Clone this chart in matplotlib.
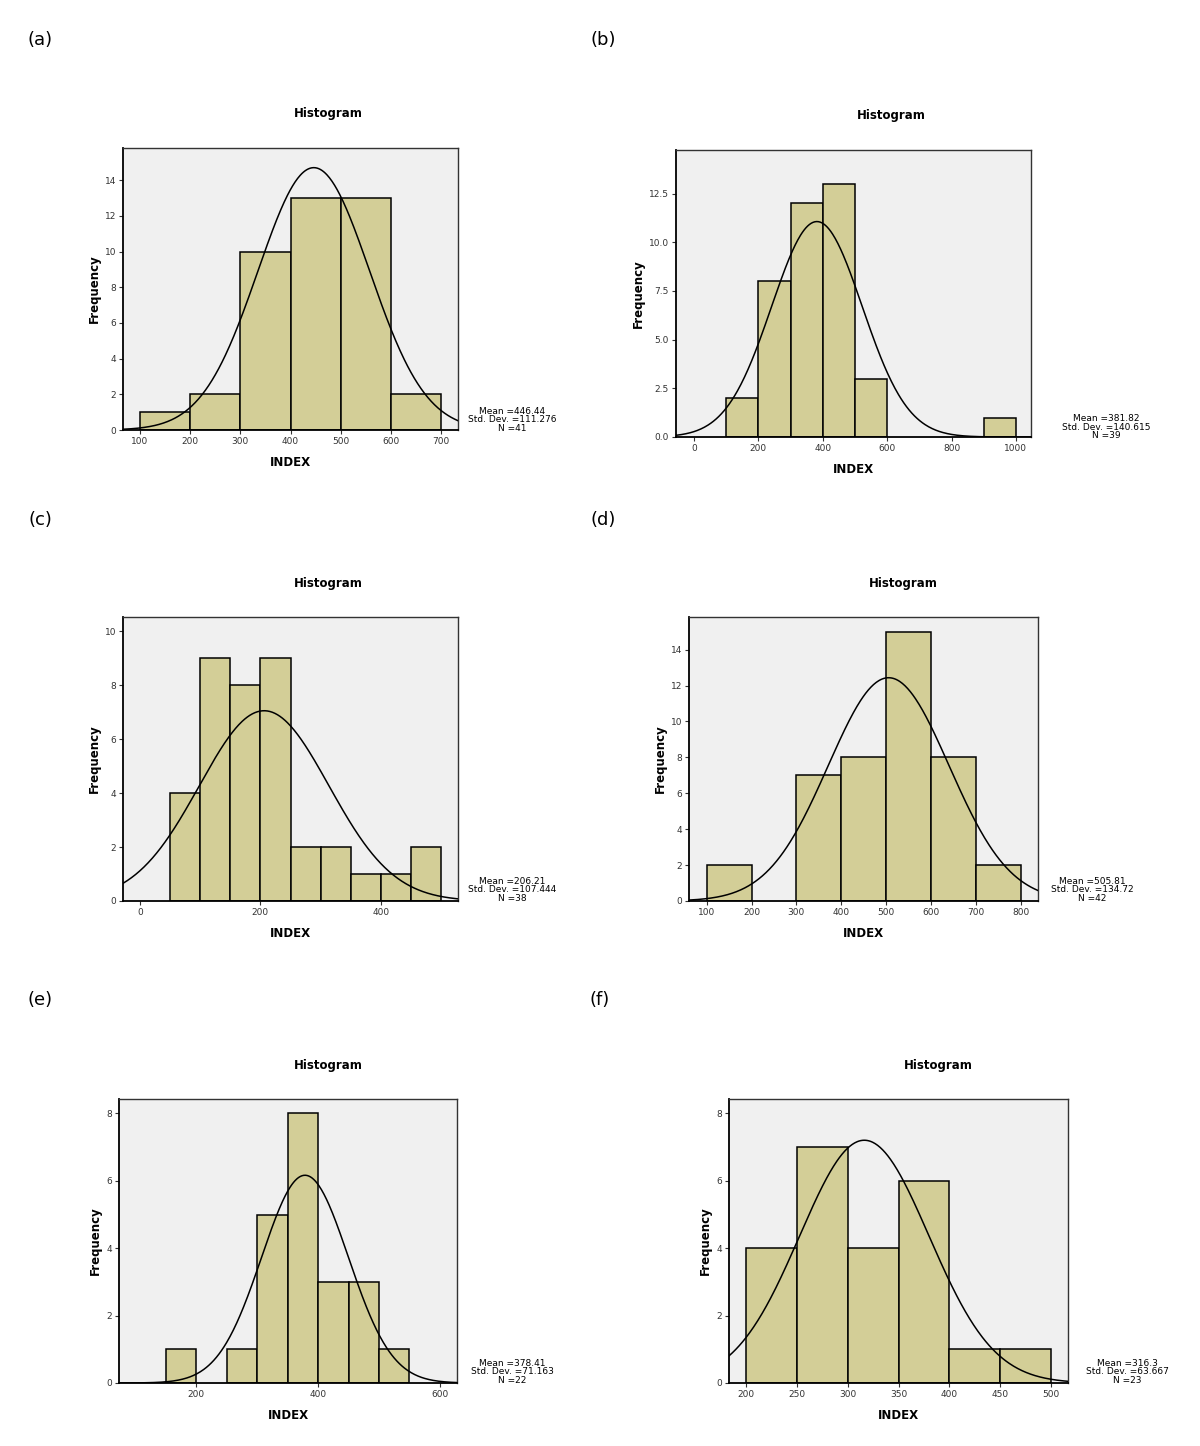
import numpy as np
import matplotlib
matplotlib.use('Agg')
import matplotlib.pyplot as plt

# bin edges (left) and counts
a_left = [100, 200, 300, 400, 500, 600]
a_counts = [1, 2, 10, 13, 13, 2]
b_left = [100, 200, 300, 400, 500, 900]
b_counts = [2, 8, 12, 13, 3, 1]
c_left = [50, 100, 150, 200, 250, 300, 350, 400, 450]
c_counts = [4, 9, 8, 9, 2, 2, 1, 1, 2]
d_left = [100, 300, 400, 500, 600, 700]
d_counts = [2, 7, 8, 15, 8, 2]
e_left = [150, 250, 300, 350, 400, 450, 500]
e_counts = [1, 1, 5, 8, 3, 3, 1]
f_left = [200, 250, 300, 350, 400, 450]
f_counts = [4, 7, 4, 6, 1, 1]

means = [446.44, 381.82, 206.21, 505.81, 378.41, 316.3]
sds = [111.276, 140.615, 107.444, 134.72, 71.163, 63.667]
ns = [41, 39, 38, 42, 22, 23]
sd_txt = ['111.276', '140.615', '107.444', '134.72', '71.163', '63.667']
widths = [100, 100, 50, 100, 50, 50]

panels = [
    dict(tag='(a)', left=a_left, counts=a_counts, xlim=(66, 734), ylim=(0, 15.8),
         xt=[100, 200, 300, 400, 500, 600, 700], yt=[0, 2, 4, 6, 8, 10, 12, 14], yfmt='%d',
         box=(123, 148, 458, 430), stat=(512, 420), lab=(40, 40), title=(328, 114)),
    dict(tag='(b)', left=b_left, counts=b_counts, xlim=(-56, 1047), ylim=(0, 14.74),
         xt=[0, 200, 400, 600, 800, 1000], yt=[0, 2.5, 5, 7.5, 10, 12.5], yfmt='%.1f',
         box=(676, 150, 1031, 437), stat=(1106, 427), lab=(603, 40), title=(891, 115)),
    dict(tag='(c)', left=c_left, counts=c_counts, xlim=(-28, 528), ylim=(0, 10.53),
         xt=[0, 200, 400], yt=[0, 2, 4, 6, 8, 10], yfmt='%d',
         box=(123, 617, 458, 901), stat=(512, 890), lab=(40, 520), title=(328, 584)),
    dict(tag='(d)', left=d_left, counts=d_counts, xlim=(60.5, 839), ylim=(0, 15.82),
         xt=[100, 200, 300, 400, 500, 600, 700, 800], yt=[0, 2, 4, 6, 8, 10, 12, 14], yfmt='%d',
         box=(689, 617, 1038, 901), stat=(1092, 890), lab=(603, 520), title=(903, 584)),
    dict(tag='(e)', left=e_left, counts=e_counts, xlim=(73, 628), ylim=(0, 8.43),
         xt=[200, 400, 600], yt=[0, 2, 4, 6, 8], yfmt='%d',
         box=(119, 1099, 457, 1383), stat=(512, 1372), lab=(40, 1000), title=(328, 1066)),
    dict(tag='(f)', left=f_left, counts=f_counts, xlim=(183, 517), ylim=(0, 8.43),
         xt=[200, 250, 300, 350, 400, 450, 500], yt=[0, 2, 4, 6, 8], yfmt='%d',
         box=(729, 1099, 1068, 1383), stat=(1127, 1372), lab=(600, 1000), title=(938, 1066)),
]

W, H = 1200, 1446
fig = plt.figure(figsize=(W / 100, H / 100), dpi=100)
fig.patch.set_facecolor('white')

for i, p in enumerate(panels):
    x0, y0, x1, y1 = p['box']
    ax = fig.add_axes([x0 / W, 1 - y1 / H, (x1 - x0) / W, (y1 - y0) / H])
    ax.set_facecolor('#f0f0f0')
    ax.bar(p['left'], p['counts'], width=widths[i], align='edge',
           color='#d3ce97', edgecolor='black', linewidth=1.1, zorder=2)
    xs = np.linspace(p['xlim'][0], p['xlim'][1], 400)
    ys = ns[i] * widths[i] / (sds[i] * np.sqrt(2 * np.pi)) * np.exp(-0.5 * ((xs - means[i]) / sds[i]) ** 2)
    ax.plot(xs, ys, color='black', linewidth=1.1, zorder=3)
    ax.set_xlim(p['xlim'])
    ax.set_ylim(p['ylim'])
    ax.set_xticks(p['xt'])
    ax.set_yticks(p['yt'])
    ax.set_yticklabels([p['yfmt'] % v for v in p['yt']])
    ax.tick_params(labelsize=6.5, length=3, width=0.8, colors='#333333', pad=2)
    for s in ax.spines.values():
        s.set_color('#333333')
        s.set_linewidth(1.0)
    ax.spines['left'].set_linewidth(1.3)
    ax.spines['bottom'].set_linewidth(1.3)
    ax.spines['left'].set_color('black')
    ax.spines['bottom'].set_color('black')
    ax.set_xlabel('INDEX', fontsize=8.5, fontweight='bold', labelpad=7)
    ax.set_ylabel('Frequency', fontsize=8.5, fontweight='bold', labelpad=3)

    tx, ty = p['title']
    fig.text(tx / W, 1 - ty / H, 'Histogram', ha='center', va='center',
             fontsize=8.5, fontweight='bold')
    sx, sy = p['stat']
    fig.text(sx / W, 1 - sy / H,
             'Mean =%s\nStd. Dev. =%s\nN =%d' % (('%g' % means[i]), sd_txt[i], ns[i]),
             ha='center', va='center', fontsize=6.5, linespacing=0.95)
    lx, ly = p['lab']
    fig.text(lx / W, 1 - ly / H, p['tag'], ha='center', va='center', fontsize=13)

fig.savefig('out.png', dpi=100)
